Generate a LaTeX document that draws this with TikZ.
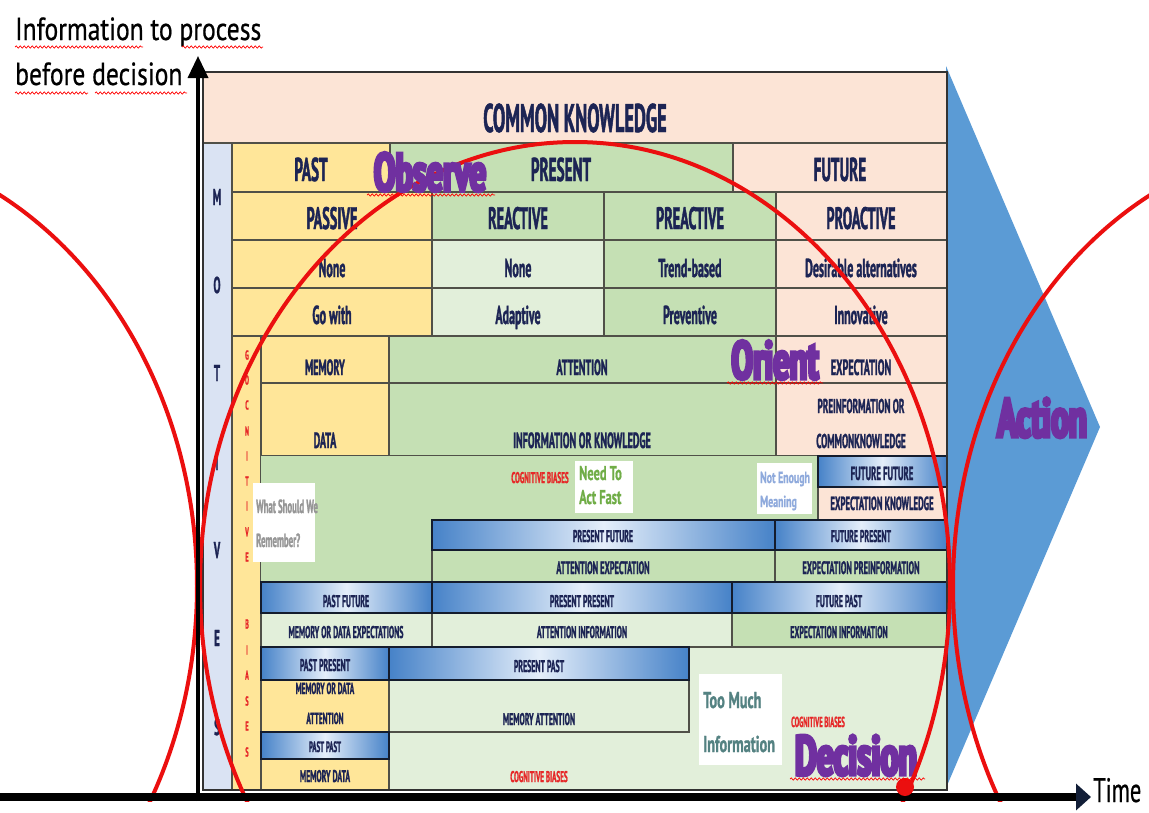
\documentclass[tikz,border=0pt]{standalone}
\usepackage{fontspec}
\setmainfont{PT Sans}
\newfontfamily\condfont[FakeStretch=0.46,FakeBold=1.2]{PT Sans}
\newfontfamily\midfont[FakeStretch=0.62,FakeBold=0.8]{PT Sans}
\newfontfamily\heavyfont[FakeStretch=0.6,FakeBold=6]{PT Sans}
\newfontfamily\axisfont[FakeStretch=0.8,FakeBold=0.6]{PT Sans}
\newfontfamily\timefont[FakeStretch=0.66,FakeBold=0.6]{PT Sans}
\usetikzlibrary{arrows.meta,decorations.pathmorphing}

\definecolor{peach}{RGB}{252,228,214}
\definecolor{pastyellow}{RGB}{255,230,153}
\definecolor{presgreen}{RGB}{197,224,180}
\definecolor{palegreen}{RGB}{226,239,218}
\definecolor{motiveblue}{RGB}{218,227,243}
\definecolor{inkblue}{RGB}{28,36,84}
\definecolor{gridgray}{RGB}{80,80,72}
\definecolor{framegray}{RGB}{50,50,50}
\definecolor{barblue}{RGB}{70,130,200}
\definecolor{barlight}{RGB}{228,238,250}
\definecolor{barline}{RGB}{20,28,45}
\definecolor{arrowblue}{RGB}{91,155,213}
\definecolor{ooda}{RGB}{112,48,160}
\definecolor{loopred}{RGB}{235,15,15}
\definecolor{biasred}{RGB}{230,40,40}
\definecolor{hintgray}{RGB}{150,150,150}
\definecolor{hintgreen}{RGB}{112,173,71}
\definecolor{hintblue}{RGB}{143,170,220}
\definecolor{hintteal}{RGB}{84,130,130}
\definecolor{tipnavy}{RGB}{18,30,55}

\tikzset{
  gridcell/.style={draw=gridgray, line width=1.2pt},
  barcell/.style={draw=barline, line width=2.2pt, left color=barblue,
    right color=barblue, middle color=barlight},
  tx/.style={inner sep=0pt, anchor=base, text=inkblue,
    font=\condfont\bfseries\fontsize{#1}{#1}\selectfont},
  biastx/.style={tx=#1, text=biasred},
  letter/.style={inner sep=0pt, anchor=center, text=inkblue,
    font=\condfont\bfseries\fontsize{#1}{#1}\selectfont},
  redletter/.style={letter=#1, text=biasred},
  hint/.style={inner sep=0pt, anchor=base,
    font=\midfont\bfseries\fontsize{#1}{#1}\selectfont},
  heavy/.style={inner sep=0pt, anchor=base, text=ooda,
    font=\heavyfont\bfseries\fontsize{#1}{#1}\selectfont},
  axislabel/.style={inner sep=0pt, anchor=base west, text=black,
    font=\axisfont\fontsize{#1}{#1}\selectfont},
  loopline/.style={draw=loopred, line width=4pt},
  squiggle/.style={draw=red, line width=0.7pt, decorate,
    decoration={snake, amplitude=1.1pt, segment length=4pt}}
}

\newcommand\cellbox[5]{\filldraw[gridcell, fill=#5] (#1,#2) rectangle (#3,#4);}
\newcommand\barbox[4]{\path[barcell] (#1,#2) rectangle (#3,#4);}

\begin{document}
\begin{tikzpicture}[x=1pt,y=-1pt]
\useasboundingbox (0,0) rectangle (1149,812);

% action chevron behind the table
\fill[arrowblue] (946,66) -- (1100,427) -- (946,788) -- cycle;

% ---- table: header rows
\cellbox{203}{72}{947}{143}{peach}
\cellbox{203}{143}{232}{790}{motiveblue}
\cellbox{232}{143}{390}{192}{pastyellow}
\cellbox{390}{143}{733}{192}{presgreen}
\cellbox{733}{143}{947}{192}{peach}
\cellbox{232}{192}{432}{240}{pastyellow}
\cellbox{432}{192}{604}{240}{presgreen}
\cellbox{604}{192}{776}{240}{presgreen}
\cellbox{776}{192}{947}{240}{peach}
\cellbox{232}{240}{432}{288}{pastyellow}
\cellbox{432}{240}{604}{288}{palegreen}
\cellbox{604}{240}{776}{288}{presgreen}
\cellbox{776}{240}{947}{288}{peach}
\cellbox{232}{288}{432}{336}{pastyellow}
\cellbox{432}{288}{604}{336}{palegreen}
\cellbox{604}{288}{776}{336}{presgreen}
\cellbox{776}{288}{947}{336}{peach}
% ---- memory / attention / expectation
\cellbox{232}{336}{261}{790}{pastyellow}
\cellbox{261}{336}{389}{383}{pastyellow}
\cellbox{389}{336}{776}{383}{presgreen}
\cellbox{776}{336}{947}{383}{peach}
\cellbox{261}{383}{389}{456}{pastyellow}
\cellbox{389}{383}{776}{456}{presgreen}
\cellbox{776}{383}{947}{456}{peach}
% ---- combination grid
\fill[presgreen] (261,456) rectangle (947,520);
\fill[presgreen] (261,520) rectangle (432,582);
\fill[palegreen] (389,647) rectangle (947,790);
\cellbox{818}{487}{947}{520}{peach}
\cellbox{432}{550}{775}{582}{presgreen}
\cellbox{775}{550}{947}{582}{presgreen}
\cellbox{261}{613}{432}{647}{palegreen}
\cellbox{432}{613}{732}{647}{palegreen}
\cellbox{732}{613}{947}{647}{presgreen}
\cellbox{261}{680}{389}{732}{pastyellow}
\cellbox{389}{680}{689}{732}{palegreen}
\cellbox{261}{759}{389}{790}{pastyellow}
\barbox{818}{456}{947}{487}
\barbox{432}{520}{775}{550}
\barbox{775}{520}{947}{550}
\barbox{261}{582}{432}{613}
\barbox{432}{582}{732}{613}
\barbox{732}{582}{947}{613}
\barbox{261}{647}{389}{680}
\barbox{389}{647}{689}{680}
\barbox{261}{732}{389}{759}
\draw[line width=2pt, draw=framegray] (203,72) rectangle (947,790);

% ---- cell texts
\node[tx=40] (common) at (575,132) {COMMON KNOWLEDGE};
\node[tx=33] (past) at (311,181) {PAST};
\node[tx=33] (present) at (561,181) {PRESENT};
\node[tx=33] (future) at (840,181) {FUTURE};
\node[tx=31] (passive) at (332,229) {PASSIVE};
\node[tx=31] (reactive) at (518,229) {REACTIVE};
\node[tx=31] (preactive) at (690,229) {PREACTIVE};
\node[tx=31] (proactive) at (861,229) {PROACTIVE};
\node[tx=26] (nonepast) at (332,277) {None};
\node[tx=26] (nonepres) at (518,277) {None};
\node[tx=26] (trend) at (690,277) {Trend-based};
\node[tx=26] (desirable) at (861,277) {Desirable alternatives};
\node[tx=26] (gowith) at (332,324) {Go with};
\node[tx=26] (adaptive) at (518,324) {Adaptive};
\node[tx=26] (preventive) at (690,324) {Preventive};
\node[tx=26] (innovative) at (861,324) {Innovative};
\node[tx=22] (memory) at (325,375) {MEMORY};
\node[tx=22] (attention) at (582,375) {ATTENTION};
\node[tx=22] (expectation) at (861,375) {EXPECTATION};
\node[tx=22] (data) at (325,448) {DATA};
\node[tx=22] (infoknow) at (582,448) {INFORMATION OR KNOWLEDGE};
\node[tx=20] (preinfo) at (861,413) {PREINFORMATION OR};
\node[tx=20] (commonknow) at (861,448) {COMMONKNOWLEDGE};
\node[tx=19] (futfut) at (882,480) {FUTURE FUTURE};
\node[tx=19] (expknow) at (882,510) {EXPECTATION KNOWLEDGE};
\node[tx=17] (presfut) at (603,542) {PRESENT FUTURE};
\node[tx=17] (futpres) at (861,542) {FUTURE PRESENT};
\node[tx=18] (attexp) at (603,574) {ATTENTION EXPECTATION};
\node[tx=18] (exppre) at (861,574) {EXPECTATION PREINFORMATION};
\node[tx=17] (pastfut) at (346,607) {PAST FUTURE};
\node[tx=17] (prespres) at (582,607) {PRESENT PRESENT};
\node[tx=17] (futpast) at (839,607) {FUTURE PAST};
\node[tx=17] (memdataexp) at (346,638) {MEMORY OR DATA EXPECTATIONS};
\node[tx=17] (attinfo) at (582,638) {ATTENTION INFORMATION};
\node[tx=17] (expinfo) at (839,638) {EXPECTATION INFORMATION};
\node[tx=17] (pastpres) at (325,671) {PAST PRESENT};
\node[tx=17] (prespast) at (539,672) {PRESENT PAST};
\node[tx=16] (memordata) at (325,694) {MEMORY OR DATA};
\node[tx=16] (attnlow) at (325,724) {ATTENTION};
\node[tx=17] (memattn) at (539,725) {MEMORY ATTENTION};
\node[tx=15] (pastpast) at (325,752) {PAST PAST};
\node[tx=17] (memdata) at (325,782) {MEMORY DATA};
\node[biastx=15.5] (biasmid) at (540,483) {COGNITIVE BIASES};
\node[biastx=15.5] (biaslow) at (539,782) {COGNITIVE BIASES};
\node[biastx=14.5] (biasright) at (818,727) {COGNITIVE BIASES};

% ---- vertical labels
\foreach \ch/\yy [count=\k] in {M/197,O/285,T/373,I/462,V/550,E/638,S/727}
  \node[letter=23] (motive\k) at (217,\yy) {\ch};
\foreach \ch/\yy [count=\k] in {G/355,O/380,C/405,N/431,I/456,T/481,I/506,V/532,E/557,
                                B/624,I/650,A/675,S/701,E/726,S/752}
  \node[redletter=13] (cogn\k) at (247,\yy) {\ch};

% ---- hint boxes
\fill[white] (253,483) rectangle (315,562);
\node[tx=19, text=hintgray, anchor=base west] (whatshould) at (256,513) {What Should We};
\node[tx=19, text=hintgray, anchor=base west] (remember) at (256,547) {Remember?};
\fill[white] (575,461) rectangle (633,513);
\node[hint=20, text=hintgreen, anchor=base west] (needto) at (579,480) {Need To};
\node[hint=20, text=hintgreen, anchor=base west] (actfast) at (579,504) {Act Fast};
\fill[white] (757,463) rectangle (812,514);
\node[hint=16, text=hintblue, anchor=base west] (notenough) at (760,483) {Not Enough};
\node[hint=16, text=hintblue, anchor=base west] (meaning) at (760,507) {Meaning};
\fill[white] (699,674) rectangle (782,765);
\node[hint=23, text=hintteal, anchor=base west] (toomuch) at (703,708) {Too Much};
\node[hint=23, text=hintteal, anchor=base west] (information) at (703,752) {Information};

% ---- phase labels under the loop
\node[heavy=56] (decision) at (856,775) {Decision};
\node[heavy=54] (orient) at (775,379) {Orient};
\node[heavy=55] (action) at (1042,437) {Action};

% ---- OODA loop arcs
\begin{scope}
  \clip (0,0) rectangle (1149,801);
  \draw[loopline] (-178,586) ellipse [x radius=375pt, y radius=444pt];
  \draw[loopline] (575,586) ellipse [x radius=375pt, y radius=444pt];
  \draw[loopline] (1328,586) ellipse [x radius=375pt, y radius=444pt];
\end{scope}

\node[heavy=54] (observe) at (430,191) {Observe};

% ---- axes
\coordinate (yfoot) at (198,801);
\coordinate (ytip) at (198,56);
\draw[line width=3.5pt, -{Triangle[length=22pt,width=20pt]}] (yfoot) -- (ytip);
\coordinate (xfoot) at (0,797);
\coordinate (xtip) at (1091,797);
\draw[line width=8pt, -{Triangle[length=15pt,width=26pt,color=tipnavy]}] (xfoot) -- (xtip);
\node[circle, fill=loopred, minimum size=18pt, inner sep=0pt] (decisionpoint) at (905,787) {};

\node[inner sep=0pt, anchor=base west, font=\timefont\fontsize{34}{34}\selectfont] (timelabel) at (1093,802) {Time};
\node[axislabel=32] (ylabeltop) at (15,40) {Information to process};
\node[axislabel=32] (ylabelbottom) at (15,85) {before decision};

% ---- spelling squiggles
\draw[squiggle] (15,47) -- (143,47);
\draw[squiggle] (182,47) -- (263,47);
\draw[squiggle] (15,93) -- (88,93);
\draw[squiggle] (95,93) -- (187,93);
\draw[squiggle] (367,195) -- (495,195);
\draw[squiggle] (727,383) -- (823,383);
\draw[squiggle] (790,779) -- (925,779);
\end{tikzpicture}
\end{document}
